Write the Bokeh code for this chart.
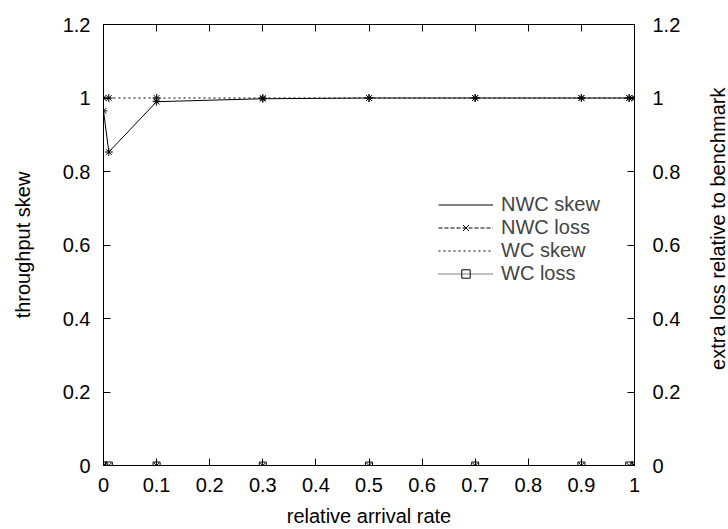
import math
from bokeh.plotting import figure
from bokeh.models import Range1d, LinearAxis, FixedTicker, Legend, LegendItem
from bokeh.layouts import row
from bokeh.core.properties import value
from bokeh.embed import file_html
from bokeh.resources import INLINE

# ---- data ----
rate = [0, 0.01, 0.1, 0.3, 0.5, 0.7, 0.9, 0.99, 1]
nwc_skew = [0.965, 0.853, 0.99, 0.998, 1.0, 1.0, 1.0, 1.0, 1.0]
nwc_loss = [0, 0, 0, 0, 0, 0, 0, 0, 0]
wc_skew = [1, 1, 1, 1, 1, 1, 1, 1, 1]
wc_loss = [0, 0, 0, 0, 0, 0, 0, 0, 0]

x_ticks = [0, 0.1, 0.2, 0.3, 0.4, 0.5, 0.6, 0.7, 0.8, 0.9, 1]
x_tick_labels = ["0", "0.1", "0.2", "0.3", "0.4", "0.5", "0.6", "0.7", "0.8", "0.9", "1"]
y_ticks = [0, 0.2, 0.4, 0.6, 0.8, 1, 1.2]
y_tick_labels = ["0", "0.2", "0.4", "0.6", "0.8", "1", "1.2"]
right_title = "extra loss relative to benchmark"

FONT = "Liberation Sans"
FS = "20px"

p = figure(width=694, height=529, output_backend="svg", toolbar_location=None,
           x_range=Range1d(0, 1), y_range=Range1d(0, 1.2),
           min_border_left=103, min_border_right=60, min_border_top=24, min_border_bottom=63)
p.extra_y_ranges = {"loss": Range1d(0, 1.2)}
p.xgrid.visible = False
p.ygrid.visible = False
p.outline_line_color = "black"
p.outline_line_width = 1
p.background_fill_color = "white"
p.border_fill_color = "white"

def style_axis(ax, ticks, labels):
    ax.ticker = FixedTicker(ticks=ticks)
    ax.major_label_overrides = {t: l for t, l in zip(ticks, labels)}
    ax.major_tick_in = 7
    ax.major_tick_out = 0
    ax.minor_tick_in = 0
    ax.minor_tick_out = 0
    ax.axis_line_color = "black"
    ax.major_tick_line_color = "black"
    ax.major_label_text_font = FONT
    ax.major_label_text_font_size = FS
    ax.major_label_text_color = "black"
    ax.axis_label_text_font = FONT
    ax.axis_label_text_font_size = FS
    ax.axis_label_text_font_style = "normal"
    ax.axis_label_text_color = "black"

xa = p.xaxis[0]
style_axis(xa, x_ticks, x_tick_labels)
xa.axis_label = "relative arrival rate"
xa.major_label_standoff = 12
xa.axis_label_standoff = 10

ya = p.yaxis[0]
style_axis(ya, y_ticks, y_tick_labels)
ya.axis_label = "throughput skew"
ya.major_label_standoff = 13
ya.axis_label_standoff = 26

ra = LinearAxis(y_range_name="loss")
style_axis(ra, y_ticks, y_tick_labels)
ra.major_label_standoff = 18
p.add_layout(ra, "right")

ta = LinearAxis()
style_axis(ta, x_ticks, ["" for _ in x_ticks])
ta.major_label_standoff = 0
p.add_layout(ta, "above")

# ---- series ----
r_nwc_skew = p.line(rate, nwc_skew, line_color="black", line_width=1)
p.scatter(rate, nwc_skew, marker="asterisk", size=8, line_color="black", line_width=1)

r_nwc_loss = p.line(rate, nwc_loss, line_color="black", line_width=1, line_dash="4 2",
                    y_range_name="loss")
r_nwc_loss_pts = p.scatter(rate, nwc_loss, marker="x", size=7, line_color="black",
                           line_width=1, y_range_name="loss")

r_wc_skew = p.line(rate, wc_skew, line_color="black", line_width=1, line_dash="2 3")
p.scatter(rate, wc_skew, marker="asterisk", size=8, line_color="black", line_width=1)

r_wc_loss = p.line(rate, wc_loss, line_color="black", line_width=1, line_dash="1 1",
                   y_range_name="loss")
r_wc_loss_pts = p.scatter(rate, wc_loss, marker="square", size=7, line_color="black",
                          fill_color=None, line_width=1, y_range_name="loss")

legend = Legend(items=[
    LegendItem(label="NWC skew", renderers=[r_nwc_skew]),
    LegendItem(label="NWC loss", renderers=[r_nwc_loss, r_nwc_loss_pts]),
    LegendItem(label="WC skew", renderers=[r_wc_skew]),
    LegendItem(label="WC loss", renderers=[r_wc_loss, r_wc_loss_pts]),
], location=(335, 180))
legend.background_fill_alpha = 0
legend.border_line_color = None
legend.padding = 0
legend.margin = 0
legend.spacing = 0
legend.glyph_width = 55
legend.glyph_height = 21
legend.label_height = 21
legend.label_text_font = FONT
legend.label_text_font_size = FS
legend.label_standoff = 8
p.add_layout(legend, "center")

# ---- narrow strip holding the right-hand axis title (reads bottom-to-top) ----
q = figure(width=34, height=529, output_backend="svg", toolbar_location=None,
           x_range=Range1d(0, 34), y_range=Range1d(0, 529),
           min_border=0, min_border_left=0, min_border_right=0,
           min_border_top=0, min_border_bottom=0)
q.axis.visible = False
q.grid.visible = False
q.outline_line_color = None
q.background_fill_color = "white"
q.border_fill_color = "white"
q.text(x=[23], y=[284], text=[right_title], angle=math.pi / 2,
       text_align="center", text_baseline="middle",
       text_font=value(FONT), text_font_size=FS, text_color="black")

layout = row(p, q, spacing=0)
open("out.html", "w").write(file_html(layout, INLINE))
